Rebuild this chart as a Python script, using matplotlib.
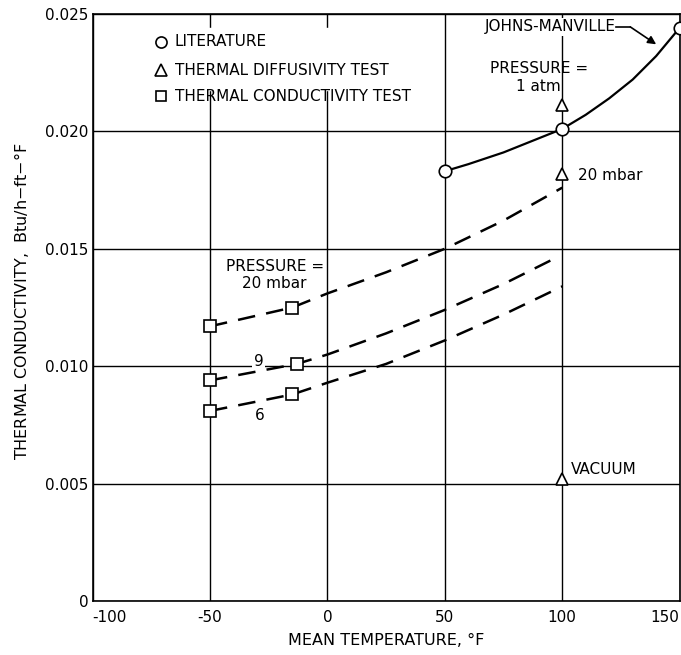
import numpy as np
import matplotlib.pyplot as plt

plt.rcParams['font.family'] = ['DejaVu Sans']

# literature values (Johns-Manville curve)
lit_temp = [50, 100, 150]
lit_k = [0.0183, 0.0201, 0.0244]
jm_curve_temp = [50, 60, 75, 90, 100, 110, 120, 130, 140, 150]
jm_curve_k = [0.0183, 0.0186, 0.0191, 0.0197, 0.0201, 0.0207, 0.0214, 0.0222, 0.0232, 0.0244]

# thermal diffusivity test points at 100 F
diff_temp = [100, 100, 100]
diff_k = [0.0211, 0.0182, 0.0052]

# thermal conductivity test points
cond_temp_20 = [-50, -15]
cond_k_20 = [0.0117, 0.0125]
cond_temp_9 = [-50, -13]
cond_k_9 = [0.0094, 0.0101]
cond_temp_6 = [-50, -15]
cond_k_6 = [0.0081, 0.0088]

# extrapolated dashed curves
dash_temp = [-50, -15, 0, 25, 50, 75, 100]
dash_k_20 = [0.0117, 0.0125, 0.0131, 0.0140, 0.0150, 0.0162, 0.0176]
dash_temp_9 = [-50, -13, 0, 25, 50, 75, 97]
dash_k_9 = [0.0094, 0.0101, 0.0105, 0.0114, 0.0124, 0.0135, 0.0146]
dash_k_6 = [0.0081, 0.0088, 0.0093, 0.0101, 0.0111, 0.0122, 0.0134]

fs = 11

fig = plt.figure(figsize=(6.81, 6.55), dpi=100)
ax = fig.add_axes([0.136, 0.082, 0.862, 0.897])

ax.set_xlim(-100, 150)
ax.set_ylim(0, 0.025)
ax.set_xticks([-100, -50, 0, 50, 100, 150])
ax.set_xticklabels(['-100', '-50', '0', '50', '100', '150'])
ax.set_yticks([0, 0.005, 0.010, 0.015, 0.020, 0.025])
ax.set_yticklabels(['0', '0.005', '0.010', '0.015', '0.020', '0.025'])
ax.tick_params(length=0, labelsize=fs, pad=3)
ax.tick_params(axis='x', pad=6)
xl = ax.get_xticklabels()
xl[0].set_horizontalalignment('left')
xl[-1].set_horizontalalignment('right')
ax.grid(True, color='black', linewidth=1.0)
ax.set_axisbelow(True)
for s in ax.spines.values():
    s.set_linewidth(1.2)

lk = dict(color='black', linewidth=1.8, dashes=(7, 4.5))
ax.plot(dash_temp, dash_k_20, **lk)
ax.plot(dash_temp_9, dash_k_9, **lk)
ax.plot(dash_temp, dash_k_6, **lk)
ax.plot(jm_curve_temp, jm_curve_k, color='black', linewidth=1.6, zorder=3)

mk = dict(linestyle='none', markerfacecolor='white', markeredgecolor='black',
          markeredgewidth=1.2, zorder=4, clip_on=False)
ax.plot(lit_temp, lit_k, marker='o', markersize=9, **mk)
ax.plot(diff_temp, diff_k, marker='^', markersize=9, **mk)
for t, k in [(cond_temp_20, cond_k_20), (cond_temp_9, cond_k_9), (cond_temp_6, cond_k_6)]:
    ax.plot(t, k, marker='s', markersize=8, **mk)

# legend drawn by hand on a white patch
ax.axvspan(-78, 42, ymin=0.87, ymax=0.975, color='white', zorder=2)
leg = [('o', 'LITERATURE', 0.0238), ('^', 'THERMAL DIFFUSIVITY TEST', 0.0226),
       ('s', 'THERMAL CONDUCTIVITY TEST', 0.0215)]
for m, lab, yy in leg:
    ax.plot([-71], [yy], marker=m, markersize=8 if m != 's' else 7, **mk)
    ax.text(-65, yy, lab, fontsize=fs, va='center', ha='left', zorder=5)

wb = dict(facecolor='white', edgecolor='none', pad=1)
ax.text(123, 0.02444, 'JOHNS-MANVILLE', fontsize=fs, ha='right', va='center',
        bbox=wb, zorder=5)
ax.plot([123, 129], [0.02444, 0.02444], color='black', lw=1.2, zorder=5)
ax.annotate('', xy=(140, 0.0237), xytext=(129, 0.02444),
            arrowprops=dict(arrowstyle='-|>', color='black', lw=1.2,
                            shrinkA=0, shrinkB=0, mutation_scale=12), zorder=5)
ax.text(90, 0.0223, 'PRESSURE =\n1 atm', fontsize=fs, ha='center', va='center',
        linespacing=1.25, zorder=5)
ax.text(106.8, 0.0181, '20 mbar', fontsize=fs, ha='left', va='center', zorder=5)
ax.text(-22.5, 0.0139, 'PRESSURE =\n20 mbar', fontsize=fs, ha='center', va='center',
        linespacing=1.15, zorder=5)
ax.text(-29.4, 0.0102, '9', fontsize=fs, ha='center', va='center', bbox=wb, zorder=5)
ax.text(-29, 0.0079, '6', fontsize=fs, ha='center', va='center', zorder=5)
ax.text(103.8, 0.0056, 'VACUUM', fontsize=fs, ha='left', va='center', zorder=5)

fig.text(0.032, 0.54, 'THERMAL CONDUCTIVITY,  $\\mathregular{Btu/h{-}ft{-}°F}$',
         rotation=90, fontsize=11.5, ha='center', va='center')
ax.set_xlabel('MEAN TEMPERATURE, °F', fontsize=11.5, labelpad=6)

fig.savefig('out.png', dpi=100)
